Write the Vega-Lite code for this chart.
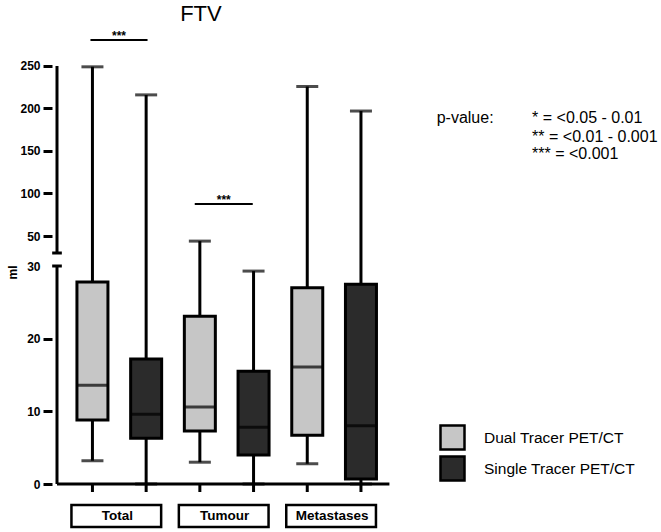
{
  "$schema": "https://vega.github.io/schema/vega-lite/v6.json",
  "width": 609,
  "height": 532,
  "autosize": {"type": "none"},
  "padding": {"left": 52, "top": 0, "right": 0, "bottom": 0},
  "background": "white",
  "config": {"view": {"stroke": null}, "font": "Liberation Sans"},
  "data": {
    "values": [
      {"group": "Total", "tracer": "Dual Tracer PET/CT", "slot": 1, "min": 3.2, "q1": 8.8, "median": 13.6, "q3": 27.8, "max": 249},
      {"group": "Total", "tracer": "Single Tracer PET/CT", "slot": 2, "min": 0, "q1": 6.3, "median": 9.6, "q3": 17.2, "max": 216},
      {"group": "Tumour", "tracer": "Dual Tracer PET/CT", "slot": 3, "min": 3.0, "q1": 7.3, "median": 10.6, "q3": 23.1, "max": 44},
      {"group": "Tumour", "tracer": "Single Tracer PET/CT", "slot": 4, "min": 0, "q1": 4.0, "median": 7.8, "q3": 15.5, "max": 29.3},
      {"group": "Metastases", "tracer": "Dual Tracer PET/CT", "slot": 5, "min": 2.8, "q1": 6.7, "median": 16.1, "q3": 27.0, "max": 226},
      {"group": "Metastases", "tracer": "Single Tracer PET/CT", "slot": 6, "min": 0, "q1": 0.7, "median": 8.0, "q3": 27.5, "max": 197}
    ]
  },
  "layer": [
    {
      "mark": {"type": "rule", "strokeWidth": 3, "color": "black"},
      "encoding": {
        "x": {"field": "slot", "type": "quantitative", "scale": {"domain": [0.34, 11.494], "nice": false, "zero": false}, "axis": null},
        "y": {"field": "min", "type": "quantitative", "title": "ml", "scale": {"domain": [-6.6, 0, 30, 30.01, 327.6], "range": [532, 484, 266, 253, 0], "nice": false, "zero": false},
          "axis": {"title": "ml", "values": [0, 10, 20, 30, 50, 100, 150, 200, 250], "domain": false, "grid": false,
            "tickColor": "black", "tickWidth": 3, "tickSize": 9, "tickOpacity": {"condition": {"test": "datum.value === 30", "value": 0}, "value": 1},
            "labelFont": "Liberation Sans", "labelFontWeight": "bold", "labelFontSize": 12, "labelColor": "black", "labelPadding": 3,
            "titleFont": "Liberation Sans", "titleFontWeight": "bold", "titleFontSize": 12, "titleColor": "black",
            "titleX": -40, "titleY": 272, "titleAngle": 270, "titleAlign": "center", "titleBaseline": "middle"}},
        "y2": {"field": "max"}
      }
    },
    {
      "data": {"values": [{}]},
      "mark": {"type": "rule", "strokeWidth": 3, "color": "black"},
      "encoding": {
        "x": {"datum": 0.34, "type": "quantitative", "scale": {"domain": [0.34, 11.494], "nice": false, "zero": false}, "axis": null},
        "y": {"datum": 0, "type": "quantitative", "scale": {"domain": [-6.6, 0, 30, 30.01, 327.6], "range": [532, 484, 266, 253, 0], "nice": false, "zero": false}},
        "y2": {"datum": 30}
      }
    },
    {
      "data": {"values": [{}]},
      "mark": {"type": "rule", "strokeWidth": 3, "color": "black"},
      "encoding": {
        "x": {"datum": 0.34, "type": "quantitative", "scale": {"domain": [0.34, 11.494], "nice": false, "zero": false}, "axis": null},
        "y": {"datum": 30.01, "type": "quantitative", "scale": {"domain": [-6.6, 0, 30, 30.01, 327.6], "range": [532, 484, 266, 253, 0], "nice": false, "zero": false}},
        "y2": {"datum": 250}
      }
    },
    {
      "data": {"values": [{}]},
      "mark": {"type": "rule", "strokeWidth": 3, "color": "black"},
      "encoding": {
        "x": {"datum": 0.34, "type": "quantitative", "scale": {"domain": [0.34, 11.494], "nice": false, "zero": false}, "axis": null},
        "x2": {"datum": 6.53},
        "y": {"datum": 0, "type": "quantitative", "scale": {"domain": [-6.6, 0, 30, 30.01, 327.6], "range": [532, 484, 266, 253, 0], "nice": false, "zero": false}}
      }
    },
    {
      "data": {"values": [{}]},
      "mark": {"type": "rule", "strokeWidth": 3, "color": "black"},
      "encoding": {
        "x": {"datum": 0.25, "type": "quantitative", "scale": {"domain": [0.34, 11.494], "nice": false, "zero": false}, "axis": null},
        "x2": {"datum": 0.43},
        "y": {"datum": 30, "type": "quantitative", "scale": {"domain": [-6.6, 0, 30, 30.01, 327.6], "range": [532, 484, 266, 253, 0], "nice": false, "zero": false}}
      }
    },
    {
      "data": {"values": [{}]},
      "mark": {"type": "rule", "strokeWidth": 3, "color": "black"},
      "encoding": {
        "x": {"datum": 0.25, "type": "quantitative", "scale": {"domain": [0.34, 11.494], "nice": false, "zero": false}, "axis": null},
        "x2": {"datum": 0.43},
        "y": {"datum": 30.01, "type": "quantitative", "scale": {"domain": [-6.6, 0, 30, 30.01, 327.6], "range": [532, 484, 266, 253, 0], "nice": false, "zero": false}}
      }
    },
    {
      "mark": {"type": "rule", "strokeWidth": 3, "color": "black"},
      "encoding": {
        "x": {"field": "slot", "type": "quantitative", "scale": {"domain": [0.34, 11.494], "nice": false, "zero": false}, "axis": null},
        "y": {"datum": 0, "type": "quantitative", "scale": {"domain": [-6.6, 0, 30, 30.01, 327.6], "range": [532, 484, 266, 253, 0], "nice": false, "zero": false}},
        "y2": {"datum": -1.1}
      }
    },
    {
      "mark": {"type": "bar", "size": 31, "stroke": "black", "strokeWidth": 3},
      "encoding": {
        "x": {"field": "slot", "type": "quantitative", "scale": {"domain": [0.34, 11.494], "nice": false, "zero": false}, "axis": null},
        "y": {"field": "q1", "type": "quantitative", "scale": {"domain": [-6.6, 0, 30, 30.01, 327.6], "range": [532, 484, 266, 253, 0], "nice": false, "zero": false}},
        "y2": {"field": "q3"},
        "color": {"field": "tracer", "type": "nominal",
          "scale": {"domain": ["Dual Tracer PET/CT", "Single Tracer PET/CT"], "range": ["#c6c6c6", "#2b2b2b"]},
          "legend": {"orient": "none", "legendX": 387, "legendY": 424, "title": null, "padding": 0,
            "symbolType": "square", "symbolSize": 576, "symbolStrokeColor": "black", "symbolStrokeWidth": 2.5, "symbolOpacity": 1,
            "labelFont": "Liberation Sans", "labelFontSize": 15.5, "labelColor": "black", "labelOffset": 18, "rowPadding": -8}}
      }
    },
    {
      "mark": {"type": "tick", "orient": "horizontal", "size": 32, "thickness": 3, "color": "black"},
      "encoding": {
        "x": {"field": "slot", "type": "quantitative", "scale": {"domain": [0.34, 11.494], "nice": false, "zero": false}, "axis": null},
        "y": {"field": "median", "type": "quantitative", "scale": {"domain": [-6.6, 0, 30, 30.01, 327.6], "range": [532, 484, 266, 253, 0], "nice": false, "zero": false}}
      }
    },
    {
      "mark": {"type": "tick", "orient": "horizontal", "size": 22, "thickness": 3, "color": "black"},
      "encoding": {
        "x": {"field": "slot", "type": "quantitative", "scale": {"domain": [0.34, 11.494], "nice": false, "zero": false}, "axis": null},
        "y": {"field": "max", "type": "quantitative", "scale": {"domain": [-6.6, 0, 30, 30.01, 327.6], "range": [532, 484, 266, 253, 0], "nice": false, "zero": false}}
      }
    },
    {
      "mark": {"type": "tick", "orient": "horizontal", "size": 22, "thickness": 3, "color": "black"},
      "encoding": {
        "x": {"field": "slot", "type": "quantitative", "scale": {"domain": [0.34, 11.494], "nice": false, "zero": false}, "axis": null},
        "y": {"field": "min", "type": "quantitative", "scale": {"domain": [-6.6, 0, 30, 30.01, 327.6], "range": [532, 484, 266, 253, 0], "nice": false, "zero": false}}
      }
    },
    {
      "transform": [{"aggregate": [{"op": "min", "field": "slot", "as": "first"}, {"op": "max", "field": "slot", "as": "last"}], "groupby": ["group"]}],
      "mark": {"type": "rect", "fill": "white", "stroke": "black", "strokeWidth": 2.5, "xOffset": -21, "x2Offset": 15},
      "encoding": {
        "x": {"field": "first", "type": "quantitative", "scale": {"domain": [0.34, 11.494], "nice": false, "zero": false}, "axis": null},
        "x2": {"field": "last"},
        "y": {"datum": -2.89, "type": "quantitative", "scale": {"domain": [-6.6, 0, 30, 30.01, 327.6], "range": [532, 484, 266, 253, 0], "nice": false, "zero": false}},
        "y2": {"datum": -5.91}
      }
    },
    {
      "transform": [{"aggregate": [{"op": "mean", "field": "slot", "as": "mid"}], "groupby": ["group"]}],
      "mark": {"type": "text", "font": "Liberation Sans", "fontWeight": "bold", "fontSize": 13.5, "color": "black", "align": "center", "baseline": "middle", "dx": -2},
      "encoding": {
        "x": {"field": "mid", "type": "quantitative", "scale": {"domain": [0.34, 11.494], "nice": false, "zero": false}, "axis": null},
        "y": {"datum": -4.4, "type": "quantitative", "scale": {"domain": [-6.6, 0, 30, 30.01, 327.6], "range": [532, 484, 266, 253, 0], "nice": false, "zero": false}},
        "text": {"field": "group"}
      }
    },
    {
      "data": {"values": [{}]},
      "mark": {"type": "rule", "strokeWidth": 2, "color": "black"},
      "encoding": {
        "x": {"datum": 0.963, "type": "quantitative", "scale": {"domain": [0.34, 11.494], "nice": false, "zero": false}, "axis": null},
        "x2": {"datum": 2.026},
        "y": {"datum": 280.6, "type": "quantitative", "scale": {"domain": [-6.6, 0, 30, 30.01, 327.6], "range": [532, 484, 266, 253, 0], "nice": false, "zero": false}}
      }
    },
    {
      "data": {"values": [{}]},
      "mark": {"type": "rule", "strokeWidth": 2, "color": "black"},
      "encoding": {
        "x": {"datum": 2.905, "type": "quantitative", "scale": {"domain": [0.34, 11.494], "nice": false, "zero": false}, "axis": null},
        "x2": {"datum": 3.985},
        "y": {"datum": 87.6, "type": "quantitative", "scale": {"domain": [-6.6, 0, 30, 30.01, 327.6], "range": [532, 484, 266, 253, 0], "nice": false, "zero": false}}
      }
    },
    {
      "data": {"values": [{}]},
      "mark": {"type": "text", "text": "***", "font": "Liberation Sans", "fontSize": 12, "fontWeight": "bold", "color": "black", "align": "center", "baseline": "alphabetic", "dy": 0},
      "encoding": {
        "x": {"datum": 1.495, "type": "quantitative", "scale": {"domain": [0.34, 11.494], "nice": false, "zero": false}, "axis": null},
        "y": {"datum": 280.6, "type": "quantitative", "scale": {"domain": [-6.6, 0, 30, 30.01, 327.6], "range": [532, 484, 266, 253, 0], "nice": false, "zero": false}}
      }
    },
    {
      "data": {"values": [{}]},
      "mark": {"type": "text", "text": "***", "font": "Liberation Sans", "fontSize": 12, "fontWeight": "bold", "color": "black", "align": "center", "baseline": "alphabetic", "dy": 0},
      "encoding": {
        "x": {"datum": 3.445, "type": "quantitative", "scale": {"domain": [0.34, 11.494], "nice": false, "zero": false}, "axis": null},
        "y": {"datum": 87.6, "type": "quantitative", "scale": {"domain": [-6.6, 0, 30, 30.01, 327.6], "range": [532, 484, 266, 253, 0], "nice": false, "zero": false}}
      }
    },
    {
      "data": {"values": [{}]},
      "mark": {"type": "text", "text": "FTV", "font": "Liberation Sans", "fontSize": 22, "color": "black", "align": "center", "baseline": "alphabetic"},
      "encoding": {
        "x": {"datum": 3.02, "type": "quantitative", "scale": {"domain": [0.34, 11.494], "nice": false, "zero": false}, "axis": null},
        "y": {"datum": 302.9, "type": "quantitative", "scale": {"domain": [-6.6, 0, 30, 30.01, 327.6], "range": [532, 484, 266, 253, 0], "nice": false, "zero": false}}
      }
    },
    {
      "data": {"values": [{}]},
      "mark": {"type": "text", "text": "p-value:", "font": "Liberation Sans", "fontSize": 16, "color": "black", "align": "left", "baseline": "middle"},
      "encoding": {
        "x": {"datum": 7.41, "type": "quantitative", "scale": {"domain": [0.34, 11.494], "nice": false, "zero": false}, "axis": null},
        "y": {"datum": 188.8, "type": "quantitative", "scale": {"domain": [-6.6, 0, 30, 30.01, 327.6], "range": [532, 484, 266, 253, 0], "nice": false, "zero": false}}
      }
    },
    {
      "data": {"values": [{}]},
      "mark": {"type": "text", "text": "* = <0.05 - 0.01", "font": "Liberation Sans", "fontSize": 16, "color": "black", "align": "left", "baseline": "middle"},
      "encoding": {
        "x": {"datum": 9.187, "type": "quantitative", "scale": {"domain": [0.34, 11.494], "nice": false, "zero": false}, "axis": null},
        "y": {"datum": 188.8, "type": "quantitative", "scale": {"domain": [-6.6, 0, 30, 30.01, 327.6], "range": [532, 484, 266, 253, 0], "nice": false, "zero": false}}
      }
    },
    {
      "data": {"values": [{}]},
      "mark": {"type": "text", "text": "** = <0.01 - 0.001", "font": "Liberation Sans", "fontSize": 16, "color": "black", "align": "left", "baseline": "middle"},
      "encoding": {
        "x": {"datum": 9.187, "type": "quantitative", "scale": {"domain": [0.34, 11.494], "nice": false, "zero": false}, "axis": null},
        "y": {"datum": 166.5, "type": "quantitative", "scale": {"domain": [-6.6, 0, 30, 30.01, 327.6], "range": [532, 484, 266, 253, 0], "nice": false, "zero": false}}
      }
    },
    {
      "data": {"values": [{}]},
      "mark": {"type": "text", "text": "*** = <0.001", "font": "Liberation Sans", "fontSize": 16, "color": "black", "align": "left", "baseline": "middle"},
      "encoding": {
        "x": {"datum": 9.187, "type": "quantitative", "scale": {"domain": [0.34, 11.494], "nice": false, "zero": false}, "axis": null},
        "y": {"datum": 146.5, "type": "quantitative", "scale": {"domain": [-6.6, 0, 30, 30.01, 327.6], "range": [532, 484, 266, 253, 0], "nice": false, "zero": false}}
      }
    }
  ]
}
